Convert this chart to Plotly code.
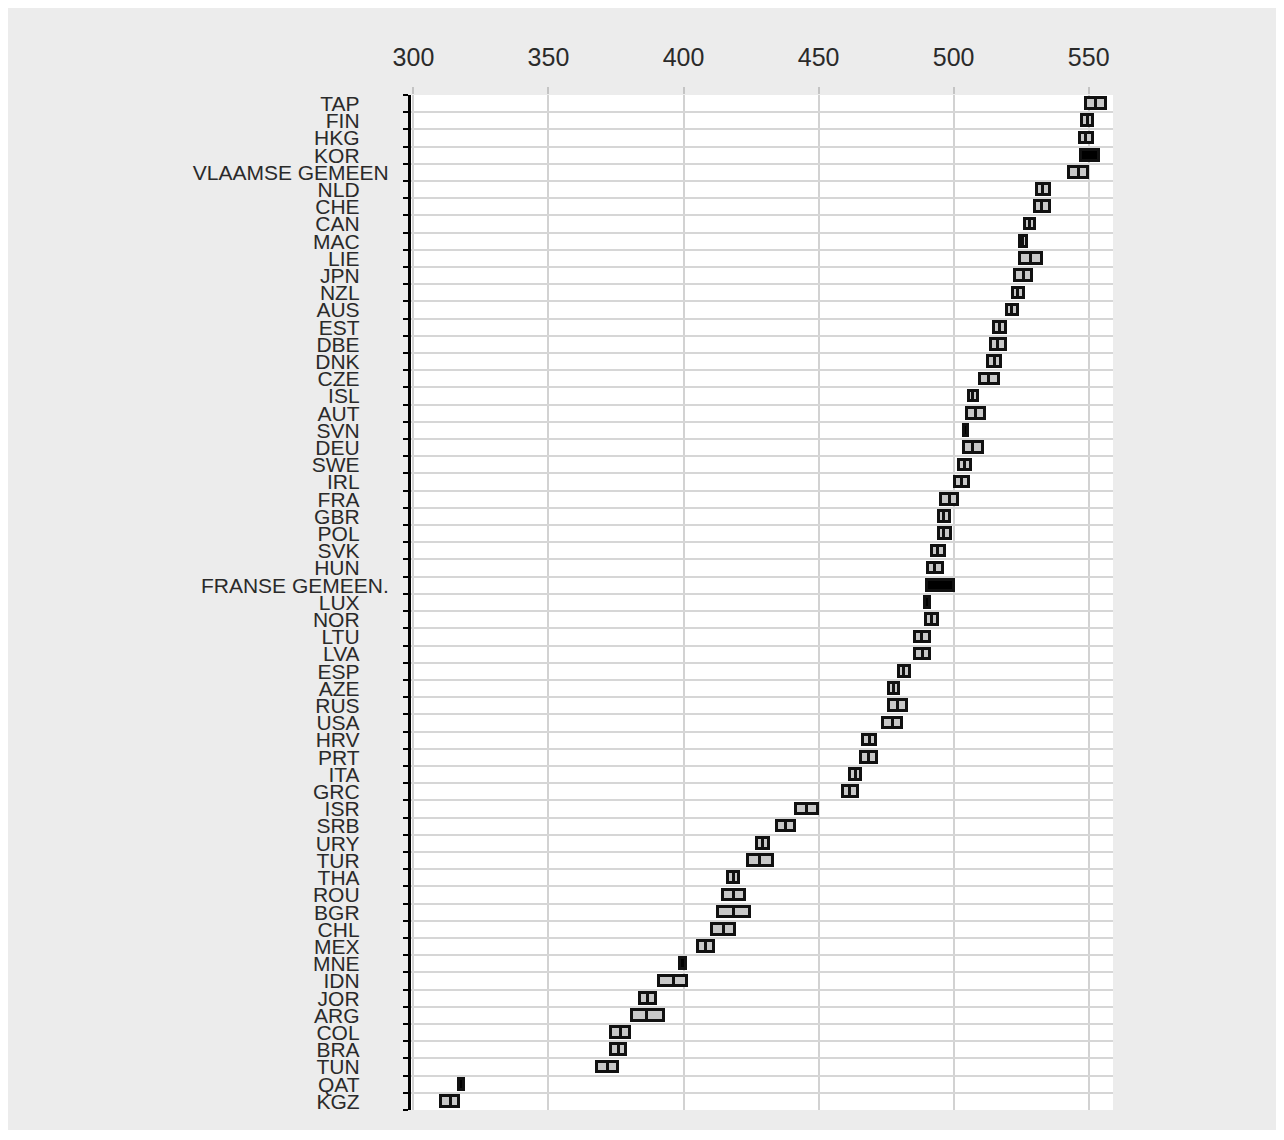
import plotly.graph_objects as go

categories = ["TAP", "FIN", "HKG", "KOR", "VLAAMSE GEMEEN", "NLD", "CHE", "CAN", "MAC", "LIE",
              "JPN", "NZL", "AUS", "EST", "DBE", "DNK", "CZE", "ISL", "AUT", "SVN",
              "DEU", "SWE", "IRL", "FRA", "GBR", "POL", "SVK", "HUN", "FRANSE GEMEEN.", "LUX",
              "NOR", "LTU", "LVA", "ESP", "AZE", "RUS", "USA", "HRV", "PRT", "ITA",
              "GRC", "ISR", "SRB", "URY", "TUR", "THA", "ROU", "BGR", "CHL", "MEX",
              "MNE", "IDN", "JOR", "ARG", "COL", "BRA", "TUN", "QAT", "KGZ"]

lower = [549.0, 547.5, 546.6, 547.0, 542.8, 530.8, 530.0, 526.6, 524.6, 524.6,
         522.8, 521.8, 519.8, 514.8, 513.8, 512.9, 509.6, 505.7, 504.8, 503.7,
         503.9, 501.9, 500.6, 495.5, 494.5, 494.5, 491.9, 490.4, 490.1, 489.4,
         489.6, 485.7, 485.7, 479.6, 475.9, 475.9, 473.8, 466.6, 465.6, 461.7,
         458.9, 441.7, 434.6, 427.1, 423.7, 416.4, 414.5, 412.7, 410.7, 405.5,
         398.8, 390.8, 383.8, 380.8, 373.0, 373.0, 368.1, 317.0, 310.1]

mean = [552.7, 549.6, 549.1, 550.5, 546.3, 533.2, 532.7, 528.4, 525.7, 528.7,
        525.9, 524.0, 521.7, 517.0, 516.4, 515.2, 513.1, 507.3, 508.3, 504.5,
        507.3, 504.1, 503.1, 498.6, 496.5, 496.5, 494.3, 493.2, 495.1, 490.4,
        492.0, 488.4, 488.5, 481.7, 477.8, 479.4, 477.4, 468.9, 468.5, 463.8,
        461.5, 445.7, 437.9, 429.3, 428.4, 418.5, 418.5, 418.5, 414.9, 408.3,
        399.8, 396.3, 387.0, 386.4, 376.7, 376.1, 372.1, 317.8, 313.9]

upper = [556.5, 551.7, 551.7, 554.0, 549.8, 535.6, 535.6, 530.3, 527.1, 532.6,
         528.9, 526.0, 523.7, 519.4, 519.4, 517.5, 516.7, 509.0, 511.6, 505.4,
         510.8, 506.4, 505.6, 501.6, 498.6, 499.0, 496.7, 496.0, 500.1, 491.4,
         494.3, 491.1, 491.4, 484.0, 479.7, 482.9, 480.9, 471.1, 471.6, 465.8,
         464.5, 449.6, 441.1, 431.6, 433.0, 420.7, 422.6, 424.5, 419.2, 411.1,
         400.8, 401.2, 389.8, 392.6, 380.3, 378.8, 375.8, 318.6, 316.8]

highlighted = ["KOR", "SVN", "FRANSE GEMEEN.", "LUX", "MNE", "QAT"]

x_ticks = [300, 350, 400, 450, 500, 550]

grey_idx = [i for i, c in enumerate(categories) if c not in highlighted]
black_idx = [i for i, c in enumerate(categories) if c in highlighted]

BAR_W = 0.62
LINE = dict(color="#111111", width=3)

fig = go.Figure()
# left half of grey boxes: lower -> mean
fig.add_trace(go.Bar(
    orientation="h",
    y=[categories[i] for i in grey_idx],
    base=[lower[i] for i in grey_idx],
    x=[mean[i] - lower[i] for i in grey_idx],
    width=BAR_W,
    marker=dict(color="#c8c8c8", line=LINE),
    showlegend=False, hoverinfo="skip",
))
# right half of grey boxes: mean -> upper
fig.add_trace(go.Bar(
    orientation="h",
    y=[categories[i] for i in grey_idx],
    base=[mean[i] for i in grey_idx],
    x=[upper[i] - mean[i] for i in grey_idx],
    width=BAR_W,
    marker=dict(color="#c8c8c8", line=LINE),
    showlegend=False, hoverinfo="skip",
))
# black boxes
fig.add_trace(go.Bar(
    orientation="h",
    y=[categories[i] for i in black_idx],
    base=[lower[i] for i in black_idx],
    x=[upper[i] - lower[i] for i in black_idx],
    width=BAR_W,
    marker=dict(color="#000000", line=LINE),
    showlegend=False, hoverinfo="skip",
))

# short codes are padded so that they end further from the axis, as in the reference
ticktext = [c if len(c) > 4 else c + "\u00a0" * 5 for c in categories]

fig.update_layout(
    width=1268, height=1122,
    margin=dict(l=403, r=163, t=87, b=20, autoexpand=False),
    paper_bgcolor="#ececec",
    plot_bgcolor="#ffffff",
    barmode="overlay",
    bargap=0,
    font=dict(family="Liberation Sans, Arial, sans-serif", color="#333333"),
    xaxis=dict(
        side="top",
        range=[299.1, 559.0],
        tickvals=x_ticks,
        ticktext=[str(v) for v in x_ticks],
        tickfont=dict(size=25, color="#2a2a2a"),
        showgrid=True, gridcolor="#d2d2d2", gridwidth=2,
        ticks="outside", ticklen=7, tickwidth=2, tickcolor="#c4c4c4",
        ticklabelstandoff=11,
        showline=False, zeroline=False,
    ),
    yaxis=dict(
        type="category",
        categoryorder="array",
        categoryarray=categories,
        tickvals=categories,
        ticktext=ticktext,
        range=[len(categories) - 0.5, -0.5],
        tickson="boundaries",
        tickfont=dict(size=21, color="#2a2a2a"),
        showgrid=True, gridcolor="#d6d6d6", gridwidth=1.5,
        ticks="outside", ticklen=5, tickwidth=2, tickcolor="#000000",
        showline=True, linecolor="#000000", linewidth=3,
        ticklabelstandoff=15,
        zeroline=False,
    ),
)

fig.write_html("out.html")
